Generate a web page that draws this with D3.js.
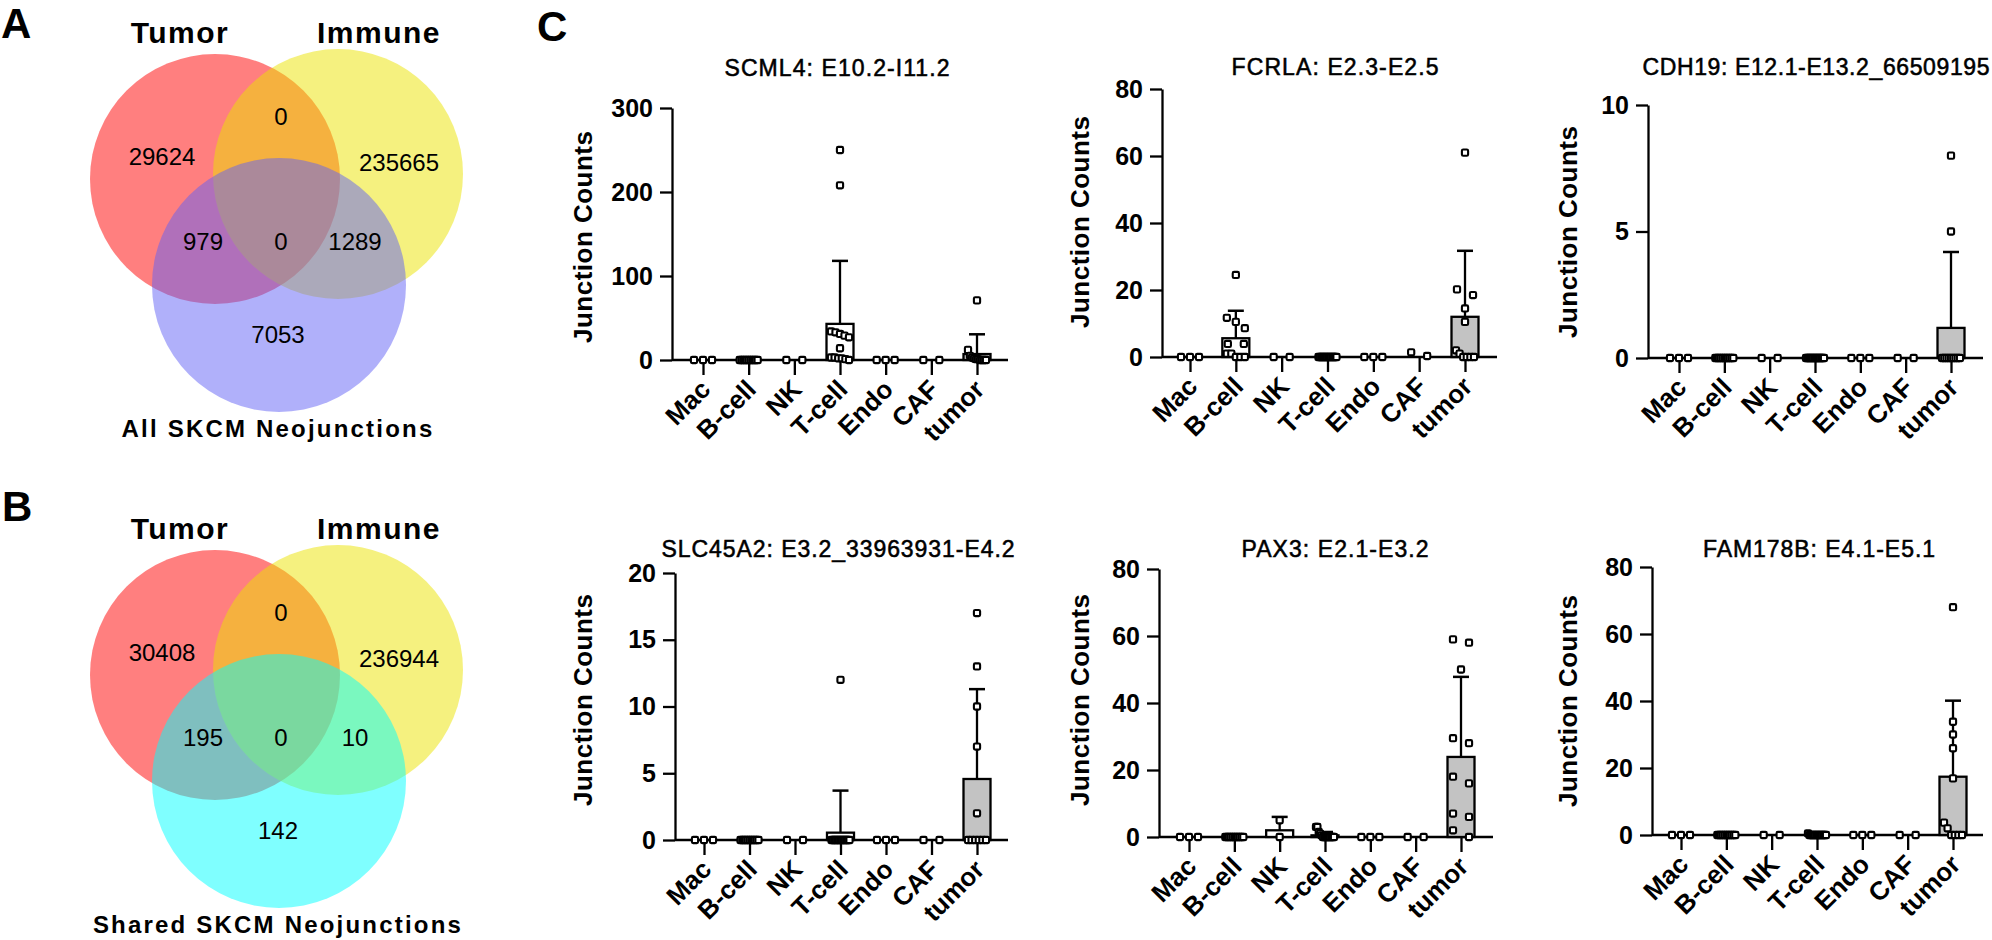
<!DOCTYPE html>
<html><head><meta charset="utf-8">
<script src="https://cdn.jsdelivr.net/npm/d3@7"></script>
<style>
body{margin:0;background:#fff;}
text{font-family:"Liberation Sans", Arial, sans-serif;fill:#000;}
</style>
</head><body>
<svg id="chart" width="1992" height="940"></svg>
<script>
// ---------------- DATA ----------------
// Venn diagrams: region order = [Tumor only, Immune only, Tumor∩Immune, Tumor∩Third, all three, Immune∩Third, Third only]
const vennSetLabels = ["Tumor", "Immune"];
const vennTitles = ["All SKCM Neojunctions", "Shared SKCM Neojunctions"];
const vennACounts = [29624, 235665, 0, 979, 0, 1289, 7053];
const vennBCounts = [30408, 236944, 0, 195, 0, 10, 142];
const panelLetters = ["A", "B", "C"];

// Panel C: bar charts with scatter
const categories = ["Mac", "B-cell", "NK", "T-cell", "Endo", "CAF", "tumor"];
const panelTitles = [
  "SCML4: E10.2-I11.2",
  "FCRLA: E2.3-E2.5",
  "CDH19: E12.1-E13.2_66509195",
  "SLC45A2: E3.2_33963931-E4.2",
  "PAX3: E2.1-E3.2",
  "FAM178B: E4.1-E5.1"
];
const yAxisTitle = "Junction Counts";
const yMaxes = [300, 80, 10, 20, 80, 80];
const yTickValues = [
  [0, 100, 200, 300],
  [0, 20, 40, 60, 80],
  [0, 5, 10],
  [0, 5, 10, 15, 20],
  [0, 20, 40, 60, 80],
  [0, 20, 40, 60, 80]
];
// bar heights (mean) and top of error bar (mean + SD), per category
const barMeans = [
  [0, 0, 0, 43, 0, 0, 7.1],
  [0, 5.6, 0, 0, 0, 0, 12.0],
  [0, 0, 0, 0, 0, 0, 1.19],
  [0, 0, 0, 0.55, 0, 0, 4.57],
  [0, 0, 2.0, 0.5, 0, 0, 23.9],
  [0, 0, 0, 0, 0, 0, 17.4]
];
const errorTops = [
  [0, 0, 0, 118, 0, 0, 30.6],
  [0, 13.8, 0, 0, 0, 0, 31.7],
  [0, 0, 0, 0, 0, 0, 4.19],
  [0, 0, 0, 3.7, 0, 0, 11.3],
  [0, 0, 6.0, 1.5, 0, 0, 47.8],
  [0, 0, 0, 0, 0, 0, 40.1]
];
const z = n => Array(n).fill(0);
const scml4Points = [z(3), z(11), z(2), [250, 208, 34, 33, 31, 29, 27, 14, 3, 3, 2, 2, 1, 0], z(3), z(2), [71, 12, 5, 3, 2, 1, 1, 0, 0, 0, 0]];
const fcrlaPoints = [z(3), [24.5, 11.7, 10.5, 8.6, 3.9, 3.9, 1, 1, 0, 0, 0], z(2), z(14), z(3), [0.3, 1.4], [61, 20.2, 18.5, 14.5, 10.5, 2, 1, 0, 0, 0, 0]];
const cdh19Points = [z(3), z(11), z(2), z(14), z(3), z(2), [8, 5, 0, 0, 0, 0, 0, 0, 0, 0, 0]];
const slc45a2Points = [z(3), z(11), z(2), [12, 0, 0, 0, 0, 0, 0, 0, 0, 0, 0, 0, 0, 0], z(3), z(2), [17, 13, 10, 7, 2, 0, 0, 0, 0, 0, 0]];
const pax3Points = [z(3), z(11), [5, 0], [3, 3, 1.5, 1, 0.5, 0, 0, 0, 0, 0, 0, 0, 0, 0], z(3), z(2), [59, 58, 50, 29.5, 28, 18, 16, 7, 6, 2, 0]];
const fam178bPoints = [z(3), z(11), z(2), [0.5, 0, 0, 0, 0, 0, 0, 0, 0, 0, 0, 0, 0, 0], z(3), z(2), [68, 33.8, 30, 25.9, 16.9, 3.7, 2, 0, 0, 0, 0]];
const allPoints = [scml4Points, fcrlaPoints, cdh19Points, slc45a2Points, pax3Points, fam178bPoints];

// ---------------- LAYOUT ----------------
const svg = d3.select("#chart");
const FONT_BOLD = 700;

// Venn layout (relative to each diagram's origin)
const vennOrigins = [0, 496];
const vennCircles = [
  {cx: 215, cy: 179, r: 125},
  {cx: 338, cy: 174, r: 125},
  {cx: 279, cy: 285, r: 127}
];
const vennFillsA = ["rgba(255,0,0,0.5)", "rgba(235,228,0,0.5)", "rgba(97,97,245,0.5)"];
const vennFillsB = ["rgba(255,0,0,0.5)", "rgba(235,228,0,0.5)", "rgba(0,255,255,0.5)"];
const vennRegionPos = [[162, 165], [399, 171], [281, 125], [203, 250], [281, 250], [355, 250], [278, 343]];
const vennSetLabelPos = [[180, 43], [379, 43]];

function drawVenn(oy, counts, fills, title) {
  const g = svg.append("g").attr("transform", `translate(0,${oy})`);
  g.selectAll("circle").data(vennCircles).join("circle")
    .attr("cx", d => d.cx).attr("cy", d => d.cy).attr("r", d => d.r)
    .attr("fill", (d, i) => fills[i]);
  g.selectAll("text.count").data(counts).join("text").attr("class", "count")
    .attr("x", (d, i) => vennRegionPos[i][0]).attr("y", (d, i) => vennRegionPos[i][1])
    .attr("text-anchor", "middle").attr("font-size", 24)
    .text(d => d);
  g.selectAll("text.set").data(vennSetLabels).join("text").attr("class", "set")
    .attr("x", (d, i) => vennSetLabelPos[i][0]).attr("y", (d, i) => vennSetLabelPos[i][1])
    .attr("text-anchor", "middle").attr("font-size", 30).attr("font-weight", FONT_BOLD)
    .attr("letter-spacing", 1.5)
    .text(d => d);
  g.append("text").attr("x", 278).attr("y", 437).attr("text-anchor", "middle")
    .attr("font-size", 24).attr("font-weight", FONT_BOLD).attr("letter-spacing", 2.2)
    .text(title);
}
drawVenn(vennOrigins[0], vennACounts, vennFillsA, vennTitles[0]);
drawVenn(vennOrigins[1], vennBCounts, vennFillsB, vennTitles[1]);

// Panel letters
const letterPos = [[1, 38], [2, 521], [537, 41]];
svg.selectAll("text.letter").data(panelLetters).join("text").attr("class", "letter")
  .attr("x", (d, i) => letterPos[i][0]).attr("y", (d, i) => letterPos[i][1])
  .attr("font-size", 42).attr("font-weight", FONT_BOLD).text(d => d);

// Bar panels
const panelLayout = [
  {ax: 672, y0: 360, yTop: 108, c0: 703, c1: 977, xEnd: 1008, tcx: 837, tby: 76, tw: 225, ylx: 583, yly: 237},
  {ax: 1162, y0: 357, yTop: 89, c0: 1190, c1: 1465, xEnd: 1497, tcx: 1335, tby: 75, tw: 207, ylx: 1080, yly: 222},
  {ax: 1648, y0: 358, yTop: 105, c0: 1679, c1: 1951, xEnd: 1983, tcx: 1816, tby: 75, tw: 347, ylx: 1568, yly: 232},
  {ax: 675, y0: 840, yTop: 573, c0: 704, c1: 977, xEnd: 1008, tcx: 838, tby: 557, tw: 353, ylx: 583, yly: 700},
  {ax: 1159, y0: 837, yTop: 569, c0: 1189, c1: 1461, xEnd: 1493, tcx: 1335, tby: 557, tw: 187, ylx: 1080, yly: 700},
  {ax: 1652, y0: 835, yTop: 567, c0: 1681, c1: 1953, xEnd: 1983, tcx: 1819, tby: 557, tw: 232, ylx: 1568, yly: 701}
];
const BAR_W = 27, CAP_W = 16, MARK = 6.2, SPREAD = 18, YLABEL_LEN = 212;

function swarm(vals, y) {
  const pts = vals.map(v => ({v, py: y(v)})).sort((a, b) => a.py - b.py);
  const out = [];
  let cur = [pts[0]];
  const flush = () => {
    const n = cur.length;
    const step = n === 1 ? 0 : Math.min(16, SPREAD / (n - 1));
    cur.forEach((p, k) => out.push({v: p.v, dx: (k - (n - 1) / 2) * step}));
  };
  for (let i = 1; i < pts.length; i++) {
    if (pts[i].py - pts[i - 1].py < 7) cur.push(pts[i]);
    else { flush(); cur = [pts[i]]; }
  }
  flush();
  return out;
}

panelLayout.forEach((L, p) => {
  const g = svg.append("g");
  const y = d3.scaleLinear().domain([0, yMaxes[p]]).range([L.y0, L.yTop]);
  const x = d3.scalePoint().domain(categories).range([L.c0, L.c1]);

  // title
  g.append("text").attr("x", L.tcx).attr("y", L.tby).attr("text-anchor", "middle")
    .attr("font-size", 23).attr("textLength", L.tw).attr("lengthAdjust", "spacing")
    .attr("stroke", "#000").attr("stroke-width", 0.55)
    .text(panelTitles[p]);

  // y axis title (rotated)
  g.append("text")
    .attr("x", 0).attr("y", 0)
    .attr("transform", `translate(${L.ylx + 9},${L.yly + YLABEL_LEN / 2}) rotate(-90)`)
    .attr("text-anchor", "start").attr("font-size", 26).attr("font-weight", FONT_BOLD)
    .attr("textLength", YLABEL_LEN).attr("lengthAdjust", "spacing")
    .text(yAxisTitle);

  // y axis
  const yAxis = d3.axisLeft(y).tickValues(yTickValues[p]).tickSize(12).tickPadding(7).tickSizeOuter(0);
  const ya = g.append("g").attr("transform", `translate(${L.ax},0)`).call(yAxis);
  ya.select(".domain").attr("stroke", "#000").attr("stroke-width", 2.3);
  ya.selectAll(".tick line").attr("stroke", "#000").attr("stroke-width", 2.3);
  ya.selectAll(".tick text").attr("font-size", 25).attr("font-weight", FONT_BOLD)
    .attr("font-family", "Liberation Sans, Arial, sans-serif").attr("fill", "#000");

  // x axis line + ticks + labels
  g.append("line").attr("x1", L.ax).attr("x2", L.xEnd).attr("y1", L.y0).attr("y2", L.y0)
    .attr("stroke", "#000").attr("stroke-width", 2.3);
  const xAxis = d3.axisBottom(x).tickSize(15).tickFormat("").tickSizeOuter(0);
  const xa = g.append("g").attr("transform", `translate(0,${L.y0})`).call(xAxis);
  xa.select(".domain").remove();
  xa.selectAll(".tick line").attr("stroke", "#000").attr("stroke-width", 2.3);
  g.selectAll("text.xl").data(categories).join("text").attr("class", "xl")
    .attr("transform", d => `translate(${x(d) + 9},${L.y0 + 31}) rotate(-45)`)
    .attr("text-anchor", "end").attr("font-size", 26).attr("font-weight", FONT_BOLD)
    .text(d => d);

  // bars
  const means = barMeans[p], tops = errorTops[p];
  categories.forEach((c, i) => {
    if (means[i] <= 0) return;
    g.append("rect").attr("x", x(c) - BAR_W / 2).attr("y", y(means[i]))
      .attr("width", BAR_W).attr("height", y(0) - y(means[i]))
      .attr("fill", c === "tumor" ? "#c3c3c3" : "#fff")
      .attr("stroke", "#000").attr("stroke-width", 2.3);
  });
  // error bars
  categories.forEach((c, i) => {
    if (tops[i] <= means[i]) return;
    g.append("line").attr("x1", x(c)).attr("x2", x(c)).attr("y1", y(means[i])).attr("y2", y(tops[i]))
      .attr("stroke", "#000").attr("stroke-width", 2.3);
    g.append("line").attr("x1", x(c) - CAP_W / 2).attr("x2", x(c) + CAP_W / 2)
      .attr("y1", y(tops[i])).attr("y2", y(tops[i]))
      .attr("stroke", "#000").attr("stroke-width", 2.5);
  });
  // points
  categories.forEach((c, i) => {
    const sw = swarm(allPoints[p][i], y);
    g.selectAll(null).data(sw).join("rect")
      .attr("x", d => x(c) + d.dx - MARK / 2).attr("y", d => y(d.v) - MARK / 2)
      .attr("width", MARK).attr("height", MARK).attr("rx", 1.3)
      .attr("fill", "#fff").attr("stroke", "#000").attr("stroke-width", 2.1);
  });
});
</script>
</body></html>
